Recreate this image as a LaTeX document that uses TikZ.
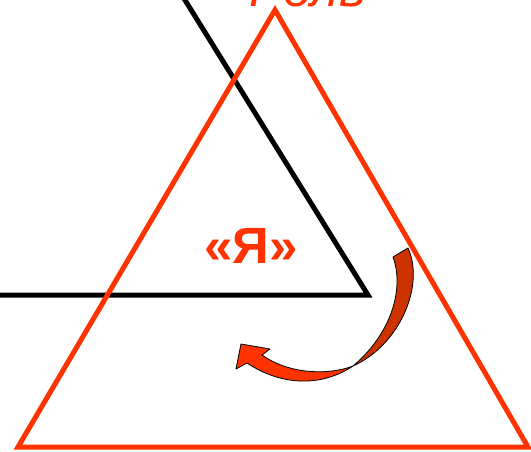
\documentclass[tikz,border=0pt]{standalone}
\usepackage{fontspec}
\setmainfont{Liberation Sans}
\usepackage{xcolor}
\usetikzlibrary{positioning}
\definecolor{rolered}{HTML}{FF3300}
\definecolor{backred}{HTML}{CC3300}

\begin{document}
\begin{tikzpicture}[
    x=1pt, y=-1pt,
    % thick outlines of both triangles
    blackside/.style={draw=black, line width=5pt, line join=miter},
    redside/.style={draw=rolered, line width=5pt, line join=miter},
    label/.style={text=rolered, inner sep=0pt, font=\fontsize{51}{51}\selectfont},
    arrowback/.style={fill=backred, draw=black, line width=0.8pt, line join=round},
    arrowfront/.style={fill=rolered, draw=black, line width=0.8pt, line join=round}
]
\useasboundingbox (0,0) rectangle (531,452);
\clip (0,0) rectangle (531,452);

%% ── Triangles ───────────────────────────────────────────────
\coordinate (ego-left) at (-10,295);
\coordinate (ego-corner) at (368,295);
\coordinate (ego-top) at (180,-8);
\draw [blackside] (ego-left) -- (ego-corner) -- (ego-top);

\coordinate (role-apex) at (275,10);
\coordinate (role-left) at (18,447);
\coordinate (role-right) at (528,447);
\draw [redside] (role-apex) -- (role-right) -- (role-left) -- cycle;

%% ── Labels ──────────────────────────────────────────────────
\node (role) [label, anchor=base, font=\fontsize{51}{51}\selectfont\itshape] at (308,7) {Роль};
\node (ego) [label, anchor=base, font=\fontsize{51}{51}\selectfont\bfseries] at (251,263) {«Я»};

%% ── Curved arrow ────────────────────────────────────────────
\coordinate (tail-out) at (408,248);
\coordinate (tail-in) at (393,257);
\coordinate (twist) at (353,366);
\coordinate (tip) at (241,344);
\draw [arrowback] (tail-out) .. controls (425,285) and (400,345) .. (twist)
    .. controls (390,335) and (405,290) .. (tail-in) -- cycle;
\draw [arrowfront] (twist) .. controls (320,388) and (280,385) .. (247,363)
    -- (236,369) -- (tip) -- (270,349) -- (262,355)
    .. controls (290,375) and (330,375) .. (twist) -- cycle;

\end{tikzpicture}
\end{document}
